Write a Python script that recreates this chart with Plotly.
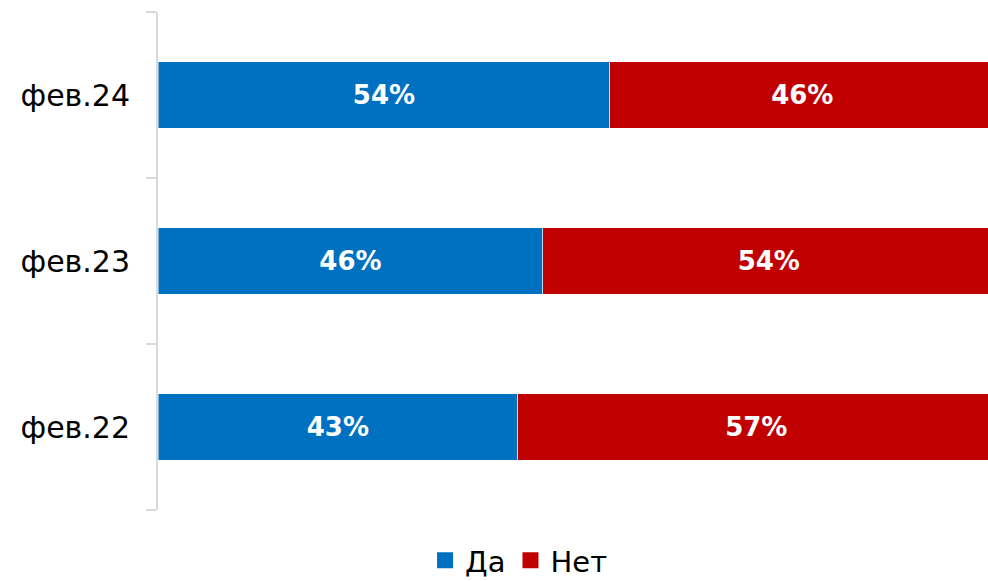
import plotly.graph_objects as go

categories = ["фев.22", "фев.23", "фев.24"]
da_values = [43, 46, 54]
net_values = [57, 54, 46]
series_names = ["Да", "Нет"]
colors = ["#0070C0", "#C00000"]

FONT = "DejaVu Sans"

fig = go.Figure()
for name, vals, col in zip(series_names, [da_values, net_values], colors):
    fig.add_trace(go.Bar(
        y=categories, x=vals, name=name, orientation="h",
        marker=dict(color=col, line=dict(color="rgba(255,255,255,0.5)", width=1)),
        text=[f"{v}%" for v in vals], textposition="inside", insidetextanchor="middle",
        textfont=dict(family=FONT, size=26, color="white", weight="bold"),
        width=0.4, hoverinfo="skip", showlegend=False,
    ))
# legend entries with larger square markers
for name, col in zip(series_names, colors):
    fig.add_trace(go.Scatter(
        x=[None], y=[None], mode="markers", name=name,
        marker=dict(symbol="square", size=18, color=col), showlegend=True,
    ))

fig.update_layout(
    barmode="stack",
    width=988, height=581,
    margin=dict(l=158, r=0, t=12, b=71, autoexpand=False),
    plot_bgcolor="white", paper_bgcolor="white",
    showlegend=True,
    legend=dict(orientation="h", x=0.435, xanchor="center", y=-0.05,
                yanchor="top",
                font=dict(family=FONT, size=29, color="#000000"),
                itemwidth=30, traceorder="normal", tracegroupgap=0,
                itemclick=False, itemdoubleclick=False),
    xaxis=dict(range=[0, 99.2], showgrid=False, showticklabels=False, zeroline=False,
               showline=False, fixedrange=True),
    yaxis=dict(showline=True, linecolor="#D9D9D9", linewidth=2, ticks="outside",
               tickson="boundaries", ticklen=10, tickcolor="#D9D9D9", tickwidth=2,
               tickfont=dict(family=FONT, size=30, color="#000000"),
               showgrid=False, zeroline=False, ticklabelstandoff=20, fixedrange=True,
               categoryorder="array", categoryarray=categories),
    uniformtext=dict(mode="show", minsize=10),
)
fig.write_html("out.html", config={"displayModeBar": False},
               post_script="document.body.style.margin='0';document.body.style.overflow='hidden';")
